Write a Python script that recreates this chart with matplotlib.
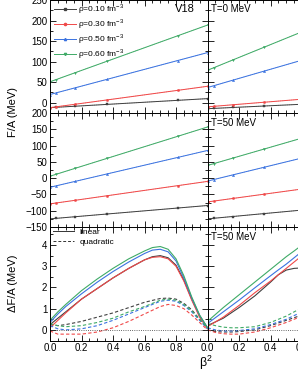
import matplotlib
matplotlib.use("Agg")
import matplotlib.pyplot as plt
from matplotlib.ticker import MultipleLocator
from matplotlib.lines import Line2D

plt.rcParams['font.family'] = ['Liberation Sans', 'DejaVu Sans']
plt.rcParams['mathtext.fontset'] = 'custom'
plt.rcParams['mathtext.rm'] = 'Liberation Sans'

# ---------------- data ----------------
densities = ["0.10", "0.30", "0.50", "0.60"]
colors = ["#404040", "#f04848", "#3a72e0", "#3eaa66"]
markers = ["s", "o", "^", "v"]

beta2_pts = [0.0, 0.04, 0.16, 0.36, 0.81, 1.0]

# F/A at T=0 (left column)
F_T0_left = [
    [-12, -11.1, -8.5, -4.1, 5.8, 10],
    [-12, -9.9, -3.7, 6.7, 30.1, 40],
    [20, 24.1, 36.3, 56.7, 102.6, 122],
    [51, 56.5, 73.1, 100.7, 162.8, 189],
]
# F/A at T=0 (right column)
F_T0_right = [
    [-14.5, -13.8, -11.6, -8.0, 0.1, 3.5],
    [-10, -8.8, -5.0, 1.2, 15.1, 21],
    [37, 41.4, 54.8, 77.0, 126.9, 148],
    [79, 85.2, 104.0, 135.2, 205.4, 235],
]
# F/A at T=50 MeV (left column)
F_T50_left = [
    [-125, -123.4, -118.4, -110.2, -91.8, -84],
    [-79, -76.2, -68.0, -54.2, -23.1, -10],
    [-28, -23.5, -9.9, 12.7, 63.5, 85],
    [6, 12.0, 30.2, 60.4, 128.3, 157],
]
# F/A at T=50 MeV (right column)
F_T50_right = [
    [-125, -123.2, -117.8, -108.8, -88.6, -80],
    [-73, -70.4, -62.4, -49.2, -19.5, -7],
    [-9, -4.3, 9.9, 33.5, 86.6, 109],
    [39, 44.6, 61.4, 89.4, 152.4, 179],
]

# Delta F/A, left column
dF_left_x = [0.0, 0.05, 0.1, 0.2, 0.3, 0.4, 0.5, 0.6, 0.65, 0.7, 0.75, 0.8, 0.85, 0.9, 0.95, 1.0]
dF_left_lin = [
    [0.25, 0.55, 0.85, 1.45, 1.95, 2.45, 2.9, 3.3, 3.45, 3.5, 3.4, 3.05, 2.35, 1.45, 0.65, 0.1],
    [0.1, 0.45, 0.8, 1.45, 1.95, 2.45, 2.9, 3.3, 3.42, 3.45, 3.35, 3.0, 2.3, 1.4, 0.6, 0.05],
    [0.35, 0.75, 1.1, 1.7, 2.25, 2.75, 3.2, 3.6, 3.76, 3.8, 3.68, 3.25, 2.45, 1.5, 0.68, 0.1],
    [0.45, 0.85, 1.2, 1.85, 2.4, 2.9, 3.35, 3.72, 3.88, 3.93, 3.8, 3.35, 2.55, 1.55, 0.7, 0.1],
]
dF_left_quad_x = [0.0, 0.05, 0.1, 0.2, 0.3, 0.4, 0.5, 0.6, 0.7, 0.75, 0.8, 0.85, 0.9, 0.95, 1.0]
dF_left_quad = [
    [0.25, 0.2, 0.25, 0.4, 0.6, 0.8, 1.05, 1.3, 1.48, 1.5, 1.45, 1.25, 0.95, 0.5, 0.1],
    [-0.05, -0.2, -0.2, -0.2, -0.1, 0.1, 0.4, 0.75, 1.1, 1.2, 1.15, 1.0, 0.7, 0.35, 0.0],
    [0.2, 0.05, 0.0, 0.05, 0.2, 0.45, 0.75, 1.05, 1.35, 1.4, 1.35, 1.15, 0.85, 0.45, 0.05],
    [0.3, 0.2, 0.15, 0.2, 0.35, 0.55, 0.85, 1.1, 1.4, 1.45, 1.4, 1.2, 0.9, 0.5, 0.1],
]

# Delta F/A, right column
dF_right_x = [0.0, 0.1, 0.2, 0.3, 0.4, 0.45, 0.5, 0.55, 0.6, 0.7]
dF_right_lin = [
    [0.2, 0.55, 1.05, 1.6, 2.25, 2.6, 2.82, 2.9, 2.92, 2.95],
    [0.15, 0.6, 1.15, 1.75, 2.3, 2.6, 2.9, 3.2, 3.5, 3.9],
    [0.3, 0.85, 1.4, 1.98, 2.55, 2.83, 3.1, 3.4, 3.7, 4.1],
    [0.4, 1.05, 1.65, 2.25, 2.85, 3.15, 3.45, 3.72, 4.0, 4.4],
]
dF_right_quad_x = [0.0, 0.05, 0.1, 0.15, 0.2, 0.3, 0.4, 0.5, 0.6, 0.7]
dF_right_quad = [
    [0.0, -0.08, -0.1, -0.1, -0.08, 0.0, 0.2, 0.45, 0.7, 1.0],
    [0.0, -0.12, -0.18, -0.2, -0.2, -0.1, 0.1, 0.35, 0.65, 1.0],
    [0.1, 0.0, -0.05, -0.05, -0.03, 0.05, 0.25, 0.5, 0.85, 1.2],
    [0.3, 0.2, 0.13, 0.1, 0.1, 0.15, 0.35, 0.65, 1.05, 1.4],
]

# ---------------- layout ----------------
W, H = 298, 385
fig = plt.figure(figsize=(W / 100, H / 100), dpi=100)

def ax_at(x0, y_top, w, h):
    return fig.add_axes([x0 / W, 1 - (y_top + h) / H, w / W, h / H])

colw = 157.5
xl, xr = 50.0, 207.5
rows = [(0.0, 113.0), (113.0, 114.0), (227.0, 113.5)]

axes = []
for (yt, hh) in rows:
    axes.append((ax_at(xl, yt, colw, hh), ax_at(xr, yt, colw, hh)))

tick_fs = 7

def style(ax, left_labels, bottom_labels, ymaj, ymin):
    ax.set_xlim(0, 1)
    ax.xaxis.set_major_locator(MultipleLocator(0.2))
    ax.xaxis.set_minor_locator(MultipleLocator(0.05))
    ax.yaxis.set_major_locator(MultipleLocator(ymaj))
    ax.yaxis.set_minor_locator(MultipleLocator(ymin))
    ax.tick_params(which='both', direction='in', top=True, right=True,
                   labelsize=tick_fs, pad=2, width=0.6)
    ax.tick_params(which='major', length=4)
    ax.tick_params(which='minor', length=2)
    ax.tick_params(axis='y', which='both', left=True, right=True)
    ax.tick_params(labelleft=left_labels, labelbottom=bottom_labels)
    for s in ax.spines.values():
        s.set_linewidth(0.7)

panels_F = [(F_T0_left, F_T0_right, (-25, 250)), (F_T50_left, F_T50_right, (-150, 200))]
for r, (dl, dr, yl) in enumerate(panels_F):
    axL, axR = axes[r]
    for ax, data in ((axL, dl), (axR, dr)):
        for i in range(4):
            ax.plot(beta2_pts, data[i], color=colors[i], lw=0.7,
                    marker=markers[i], ms=1.6, mew=0.3)
            ax.plot(beta2_pts, data[i], color=colors[i], lw=0.6, ls=':', alpha=0.5)
        ax.set_ylim(*yl)
    style(axL, True, False, 50, 25)
    style(axR, False, False, 50, 25)

axes[0][0].set_yticks([0, 50, 100, 150, 200, 250])
axes[1][0].set_yticks([-150, -100, -50, 0, 50, 100, 150, 200])
for ax in (axes[0][0], axes[0][1], axes[1][0], axes[1][1]):
    ax.yaxis.set_minor_locator(MultipleLocator(25))

# legend in top-left panel
handles = [Line2D([], [], color=colors[i], lw=0.7, marker=markers[i], ms=1.6)
           for i in range(4)]
axes[0][0].legend(handles, ["ρ=%s fm$^{-3}$" % d for d in densities],
                  loc='upper left', bbox_to_anchor=(-0.01, 1.03), frameon=False,
                  fontsize=6, handlelength=2.6, handletextpad=0.3,
                  labelspacing=0.1, borderaxespad=0.3)

# bottom row
axL, axR = axes[2]
for i in range(4):
    axL.plot(dF_left_x, dF_left_lin[i], color=colors[i], lw=0.8)
    axL.plot(dF_left_quad_x, dF_left_quad[i], color=colors[i], lw=0.8, ls=(0, (3, 2)))
    axR.plot(dF_right_x, dF_right_lin[i], color=colors[i], lw=0.8)
    axR.plot(dF_right_quad_x, dF_right_quad[i], color=colors[i], lw=0.8, ls=(0, (3, 2)))
for ax in (axL, axR):
    ax.axhline(0, color='#333333', lw=0.6, ls=':')
    ax.set_ylim(-0.5, 4.85)
style(axL, True, True, 1, 0.5)
style(axR, False, True, 1, 0.5)
axL.set_xticks([0.0, 0.2, 0.4, 0.6, 0.8])
axL.set_xticklabels(["0.0", "0.2", "0.4", "0.6", "0.8"])
axR.set_xticks([0.0, 0.2, 0.4, 0.6, 0.8, 1.0])
axR.set_xticklabels(["0.0", "0.2", "0.4", "0.6", "", ""])
for ax in (axL, axR):
    ax.xaxis.set_minor_locator(MultipleLocator(0.05))

lh = [Line2D([], [], color='#333333', lw=0.7),
      Line2D([], [], color='#333333', lw=0.7, ls=(0, (3, 2)))]
axL.legend(lh, ["linear", "quadratic"], loc='upper left', bbox_to_anchor=(-0.02, 1.04),
           frameon=False, fontsize=6, handlelength=2.6, handletextpad=0.6,
           labelspacing=0.2, borderaxespad=0.3)

# annotations
fig.text(175 / W, 1 - 9 / H, "V18", fontsize=8, va='center', ha='left')
fig.text(211 / W, 1 - 9 / H, "T=0 MeV", fontsize=7, va='center', ha='left')
fig.text(211 / W, 1 - 123.5 / H, "T=50 MeV", fontsize=7, va='center', ha='left')
fig.text(211 / W, 1 - 237 / H, "T=50 MeV", fontsize=7, va='center', ha='left')

fig.text(13 / W, 1 - 112 / H, "F/A (MeV)", fontsize=8, rotation=90, va='center', ha='center')
fig.text(13 / W, 1 - 283 / H, "ΔF/A (MeV)", fontsize=8, rotation=90, va='center', ha='center')
fig.text(206 / W, 1 - 363 / H, "β$^2$", fontsize=9, va='center', ha='center')

fig.savefig("out.png", dpi=100)
